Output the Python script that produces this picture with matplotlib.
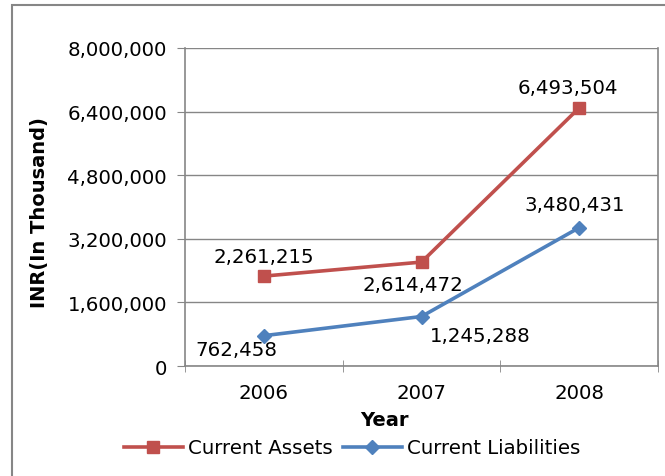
import matplotlib.pyplot as plt
from matplotlib.ticker import FuncFormatter
from matplotlib.patches import Rectangle

# data
years = ['2006', '2007', '2008']
current_assets = [2261215, 2614472, 6493504]
current_liabilities = [762458, 1245288, 3480431]
y_ticks = [0, 1600000, 3200000, 4800000, 6400000, 8000000]

red = '#C0504D'
blue = '#4F81BD'
grey = '#868686'

plt.rcParams['font.family'] = ['DejaVu Sans']

fig = plt.figure(figsize=(6.65, 4.77), dpi=100)
ax = fig.add_axes([0.2782, 0.2306, 0.7113, 0.6667])

x = [0, 1, 2]
ax.plot(x, current_assets, color=red, lw=2.6, marker='s', ms=8.5,
        label='Current Assets', zorder=3)
ax.plot(x, current_liabilities, color=blue, lw=2.6, marker='D', ms=7,
        label='Current Liabilities', zorder=3)

ax.set_xlim(-0.5, 2.5)
ax.set_ylim(0, 8000000)
ax.set_yticks(y_ticks)
ax.yaxis.set_major_formatter(FuncFormatter(lambda v, p: f'{int(v):,}'))
ax.set_xticks(x)
ax.set_xticklabels(years)
ax.set_xticks([-0.5, 0.5, 1.5, 2.5], minor=True)
ax.tick_params(axis='x', which='major', length=0, pad=12, labelsize=14.2)
ax.tick_params(axis='x', which='minor', length=9, direction='inout', color=grey)
ax.tick_params(axis='y', length=6, color=grey, pad=7, labelsize=14.2)
ax.grid(axis='y', color=grey, lw=1)
ax.set_axisbelow(True)
for s in ax.spines.values():
    s.set_color(grey)
    s.set_linewidth(1.2)
ax.spines['top'].set_visible(False)

# data labels
fs = 14.2
offsets_a = [(0, 14, 'center'), (-6, -16, 'center'), (-8, 15, 'center')]
for xi, v, (dx, dy, ha) in zip(x, current_assets, offsets_a):
    ax.annotate(f'{v:,}', (xi, v), xytext=(dx, dy), textcoords='offset points',
                ha=ha, va='center', fontsize=fs)
offsets_l = [(-20, -10, 'center'), (42, -14, 'center'), (-3, 17, 'center')]
for xi, v, (dx, dy, ha) in zip(x, current_liabilities, offsets_l):
    ax.annotate(f'{v:,}', (xi, v), xytext=(dx, dy), textcoords='offset points',
                ha=ha, va='center', fontsize=fs)

fig.text(384 / 665, 1 - 421 / 477, 'Year', ha='center', va='center',
         fontsize=14, fontweight='bold')
fig.text(40 / 665, 1 - 213 / 477, 'INR(In Thousand)', ha='center', va='center',
         rotation=90, fontsize=14, fontweight='bold')

fig.legend(loc='center', bbox_to_anchor=(352 / 665, 1 - 449 / 477), ncol=2,
           frameon=False, fontsize=14.2, handlelength=3.0, columnspacing=0.5,
           handletextpad=0.25)

# chart border
fig.patches.append(Rectangle((12 / 665, -0.1), 1.2, 1 - 6 / 477 + 0.1,
                             transform=fig.transFigure, fill=False,
                             edgecolor=grey, lw=1.5))

fig.savefig('out.png', dpi=100)
